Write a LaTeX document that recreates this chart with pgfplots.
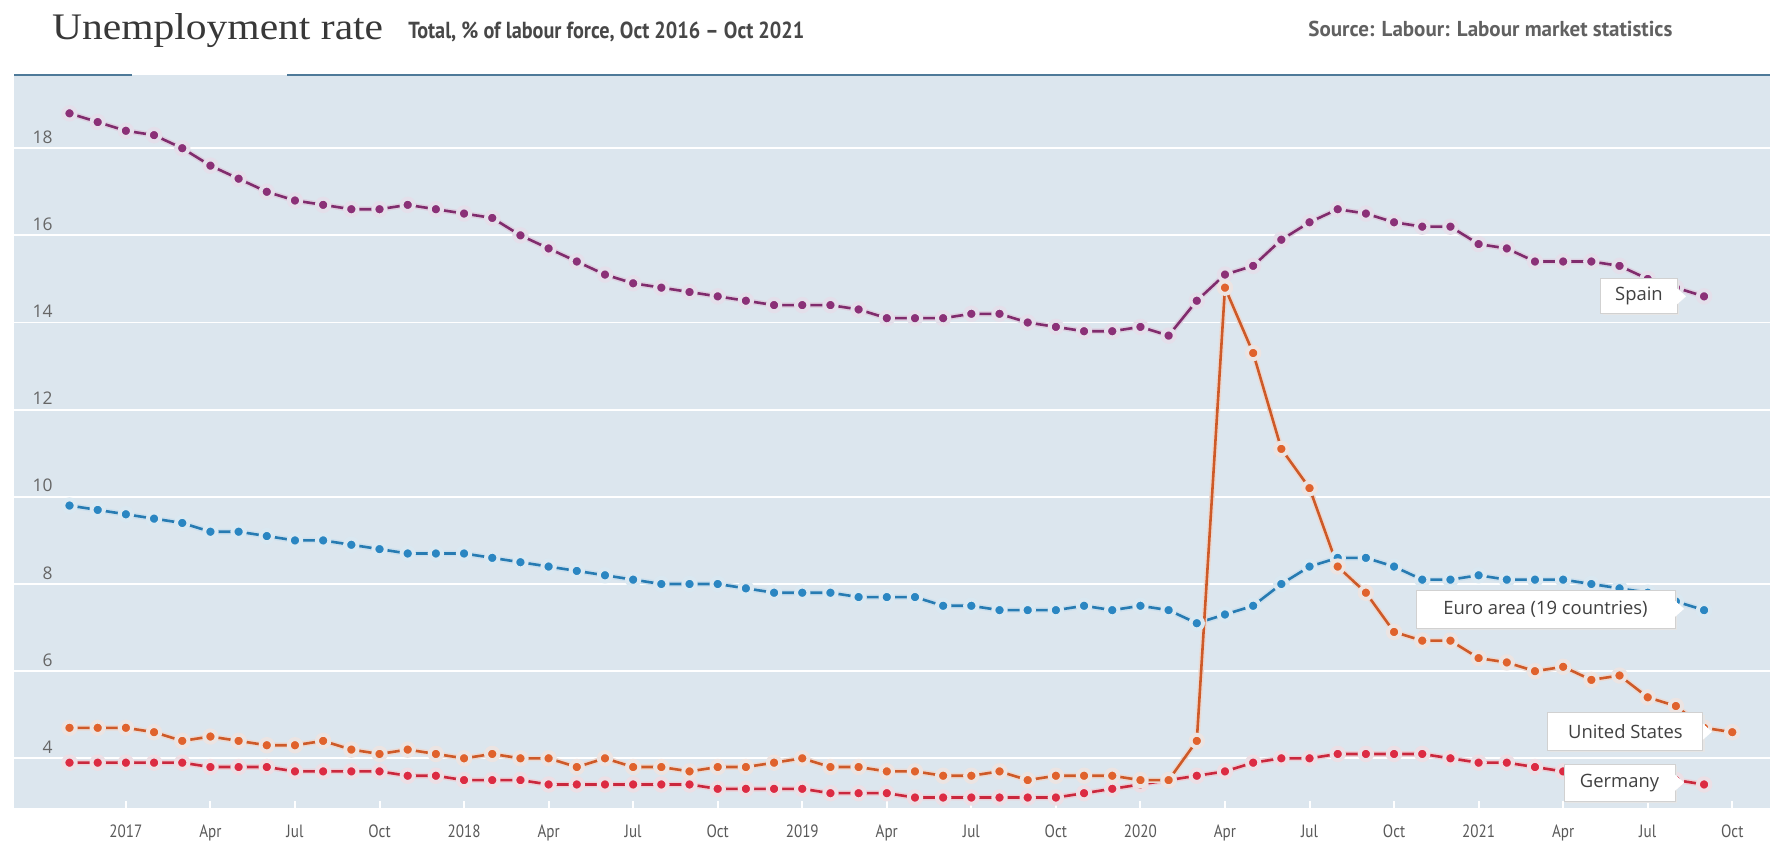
\documentclass[border=0pt]{standalone}
\usepackage{fontspec}
\usepackage{graphicx}
\usepackage{pgfplots}
\pgfplotsset{compat=1.18}
\usepackage{pgfplotstable}
\usetikzlibrary{calc}
\setmainfont{Open Sans}
\newfontfamily\titlefont{Liberation Serif}
\newfontfamily\condfont[FakeStretch=0.85]{PT Sans}
\newfontfamily\labfont{Open Sans}

\definecolor{bgc}{HTML}{DCE6EE}
\definecolor{spc}{HTML}{8B3077}
\definecolor{euc}{HTML}{2A86C2}
\definecolor{usc}{HTML}{E0622C}
\definecolor{dec}{HTML}{DC2B42}
\definecolor{topc}{HTML}{4E7A99}

\pgfplotstableread{
x y
-2 18.8
-1 18.6
0 18.4
1 18.3
2 18.0
3 17.6
4 17.3
5 17.0
6 16.8
7 16.7
8 16.6
9 16.6
10 16.7
11 16.6
12 16.5
13 16.4
14 16.0
15 15.7
16 15.4
17 15.1
18 14.9
19 14.8
20 14.7
21 14.6
22 14.5
23 14.4
24 14.4
25 14.4
26 14.3
27 14.1
28 14.1
29 14.1
30 14.2
31 14.2
32 14.0
33 13.9
34 13.8
35 13.8
36 13.9
37 13.7
38 14.5
39 15.1
40 15.3
41 15.9
42 16.3
43 16.6
44 16.5
45 16.3
46 16.2
47 16.2
48 15.8
49 15.7
50 15.4
51 15.4
52 15.4
53 15.3
54 15.0
55 14.8
56 14.6
}\spain

\pgfplotstableread{
x y
-2 9.8
-1 9.7
0 9.6
1 9.5
2 9.4
3 9.2
4 9.2
5 9.1
6 9.0
7 9.0
8 8.9
9 8.8
10 8.7
11 8.7
12 8.7
13 8.6
14 8.5
15 8.4
16 8.3
17 8.2
18 8.1
19 8.0
20 8.0
21 8.0
22 7.9
23 7.8
24 7.8
25 7.8
26 7.7
27 7.7
28 7.7
29 7.5
30 7.5
31 7.4
32 7.4
33 7.4
34 7.5
35 7.4
36 7.5
37 7.4
38 7.1
39 7.3
40 7.5
41 8.0
42 8.4
43 8.6
44 8.6
45 8.4
46 8.1
47 8.1
48 8.2
49 8.1
50 8.1
51 8.1
52 8.0
53 7.9
54 7.8
55 7.6
56 7.4
}\euro

\pgfplotstableread{
x y
-2 4.7
-1 4.7
0 4.7
1 4.6
2 4.4
3 4.5
4 4.4
5 4.3
6 4.3
7 4.4
8 4.2
9 4.1
10 4.2
11 4.1
12 4.0
13 4.1
14 4.0
15 4.0
16 3.8
17 4.0
18 3.8
19 3.8
20 3.7
21 3.8
22 3.8
23 3.9
24 4.0
25 3.8
26 3.8
27 3.7
28 3.7
29 3.6
30 3.6
31 3.7
32 3.5
33 3.6
34 3.6
35 3.6
36 3.5
37 3.5
38 4.4
39 14.8
40 13.3
41 11.1
42 10.2
43 8.4
44 7.8
45 6.9
46 6.7
47 6.7
48 6.3
49 6.2
50 6.0
51 6.1
52 5.8
53 5.9
54 5.4
55 5.2
56 4.7
57 4.6
}\us

\pgfplotstableread{
x y
-2 3.9
-1 3.9
0 3.9
1 3.9
2 3.9
3 3.8
4 3.8
5 3.8
6 3.7
7 3.7
8 3.7
9 3.7
10 3.6
11 3.6
12 3.5
13 3.5
14 3.5
15 3.4
16 3.4
17 3.4
18 3.4
19 3.4
20 3.4
21 3.3
22 3.3
23 3.3
24 3.3
25 3.2
26 3.2
27 3.2
28 3.1
29 3.1
30 3.1
31 3.1
32 3.1
33 3.1
34 3.2
35 3.3
36 3.4
37 3.5
38 3.6
39 3.7
40 3.9
41 4.0
42 4.0
43 4.1
44 4.1
45 4.1
46 4.1
47 4.0
48 3.9
49 3.9
50 3.8
51 3.7
52 3.6
53 3.6
54 3.5
55 3.5
56 3.4
}\germany

\newcommand{\drawseries}[2]{%
  \addplot[forget plot, no marks, line width=2.8bp, draw=#2!30!white!60!bgc, line join=round] table[x=x,y=y]{#1};
  \addplot[forget plot, line width=1.3bp, draw=#2!92!black, line join=round, mark=*, mark size=3.1bp,
     mark options={fill=#2, draw=#2!18!white!55!bgc, line width=2bp}] table[x=x,y=y]{#1};
}

\newcommand{\labelbox}[4]{% corner1 corner2 pointer text
  \fill[black!10] ([xshift=0.8bp,yshift=-0.8bp]#1) rectangle ([xshift=0.8bp,yshift=-0.8bp]#2);
  \draw[draw=black!18, fill=white, line width=0.5bp] (#1) rectangle (#2);
  \fill[white] ([yshift=4bp]#3) -- ([xshift=4.5bp]#3) -- ([yshift=-4bp]#3) -- cycle;
  \node[font=\labfont\fontsize{9.2bp}{11bp}\selectfont, text=black!75, inner sep=0pt]
     at ($(#1)!0.5!(#2)$) {#4};
}

\begin{document}
\begin{tikzpicture}
\fill[white] (0,0) rectangle (887.5bp,424.5bp);
\useasboundingbox (0,0) rectangle (887.5bp,424.5bp);

\node[anchor=base west, inner sep=0pt, text=black!78] at (25.85bp,404.5bp)
  {\resizebox{165.5bp}{13bp}{\titlefont Unemployment rate}};
\node[anchor=base west, inner sep=0pt, text=black!72] at (204bp,405.35bp)
  {\resizebox{198bp}{8.3bp}{\condfont\bfseries Total, \% of labour force, Oct 2016 – Oct 2021}};
\node[anchor=base west, inner sep=0pt, text=black!62] at (654bp,406.15bp)
  {\resizebox{182bp}{7.7bp}{\condfont\bfseries Source: Labour: Labour market statistics}};

\begin{axis}[
  at={(7bp,20.5bp)}, anchor=south west,
  scale only axis, width=878bp, height=366.5bp,
  xmin=-3.97, xmax=58.34, ymin=2.86, ymax=19.68,
  axis background/.style={fill=bgc},
  axis line style={draw=none},
  ymajorgrids, grid style={white, line width=0.9bp},
  ytick={4,6,...,18},
  ytick style={draw=none},
  xtick={0,3,...,57},
  xticklabels={2017,Apr,Jul,Oct,2018,Apr,Jul,Oct,2019,Apr,Jul,Oct,2020,Apr,Jul,Oct,2021,Apr,Jul,Oct},
  xtick pos=left, xtick align=inside,
  major tick length=3.5bp,
  xtick style={draw=white, line width=1bp},
  /pgf/number format/assume math mode=true,
  yticklabel style={font=\labfont\fontsize{8.7bp}{9bp}\selectfont, text=black!60, anchor=base east, inner sep=0pt, xshift=19.5bp, yshift=2.5bp},
  xticklabel style={font=\condfont\fontsize{8.9bp}{10bp}\selectfont, text=black!65, anchor=base, inner sep=0pt, yshift=-14.5bp},
]
\drawseries{\spain}{spc}
\drawseries{\euro}{euc}
\drawseries{\germany}{dec}
\drawseries{\us}{usc}

\coordinate (spA) at (axis cs:52.34,14.2);
\coordinate (spB) at (axis cs:55.04,15.0);
\coordinate (spP) at (axis cs:55.04,14.6);
\coordinate (euA) at (axis cs:45.78,6.99);
\coordinate (euB) at (axis cs:54.97,7.86);
\coordinate (euP) at (axis cs:54.97,7.43);
\coordinate (usA) at (axis cs:50.46,4.19);
\coordinate (usB) at (axis cs:55.96,5.04);
\coordinate (usP) at (axis cs:55.96,4.61);
\coordinate (deA) at (axis cs:51.03,3.02);
\coordinate (deB) at (axis cs:54.97,3.85);
\coordinate (deP) at (axis cs:54.97,3.44);
\end{axis}

\labelbox{spA}{spB}{spP}{Spain}
\labelbox{euA}{euB}{euP}{Euro area (19 countries)}
\labelbox{usA}{usB}{usP}{United States}
\labelbox{deA}{deB}{deP}{Germany}

\draw[topc, line width=1bp] (7bp,387bp) -- (66bp,387bp);
\draw[topc, line width=1bp] (143.5bp,387bp) -- (885bp,387bp);
\end{tikzpicture}
\end{document}
